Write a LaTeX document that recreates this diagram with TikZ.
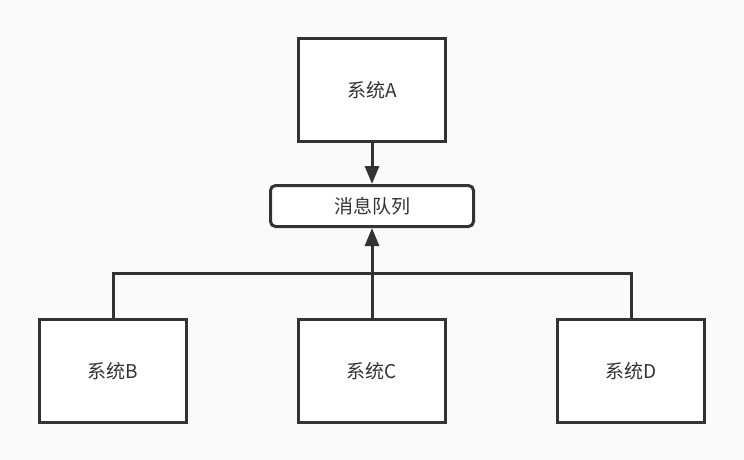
\documentclass[tikz,border=0pt]{standalone}
\usepackage{fontspec}
\setmainfont{Noto Sans CJK SC}
\usetikzlibrary{positioning,arrows.meta,calc}
\definecolor{tmava}{HTML}{333333}
\definecolor{pozadi}{HTML}{FAFAFA}
\tikzset{
  sys/.style={rectangle,draw=tmava,fill=white,line width=3pt,minimum width=147pt,minimum height=103pt,inner sep=1pt,font=\fontsize{19}{22}\selectfont,text=tmava},
  fronta/.style={rectangle,rounded corners=5pt,draw=tmava,fill=white,line width=3pt,minimum width=203pt,minimum height=41pt,inner sep=1pt,font=\fontsize{19}{22}\selectfont,text=tmava},
  hrana/.style={draw=tmava,line width=3pt},
  sip/.style={hrana,-{Triangle[width=14pt,length=18pt]}},
}
\begin{document}
\begin{tikzpicture}[x=1pt,y=1pt]
  \fill[pozadi] (0,0) rectangle (744,-460);
  \useasboundingbox (0,0) rectangle (744,-460);
  \node[sys] (a) at (372,-90) {系统A};
  \node[fronta,below=41pt of a] (mq) {消息队列};
  \node[sys,below=90pt of mq] (c) {系统C};
  \node[sys,left=109pt of c] (b) {系统B};
  \node[sys,right=109pt of c] (d) {系统D};
  \coordinate (bus) at ($(c.north)!0.5!(mq.south)$);
  \draw[sip] (a) -- (mq);
  \draw[hrana] (b.north) |- (bus) -| (d.north);
  \draw[sip] (c) -- (mq);
\end{tikzpicture}
\end{document}
